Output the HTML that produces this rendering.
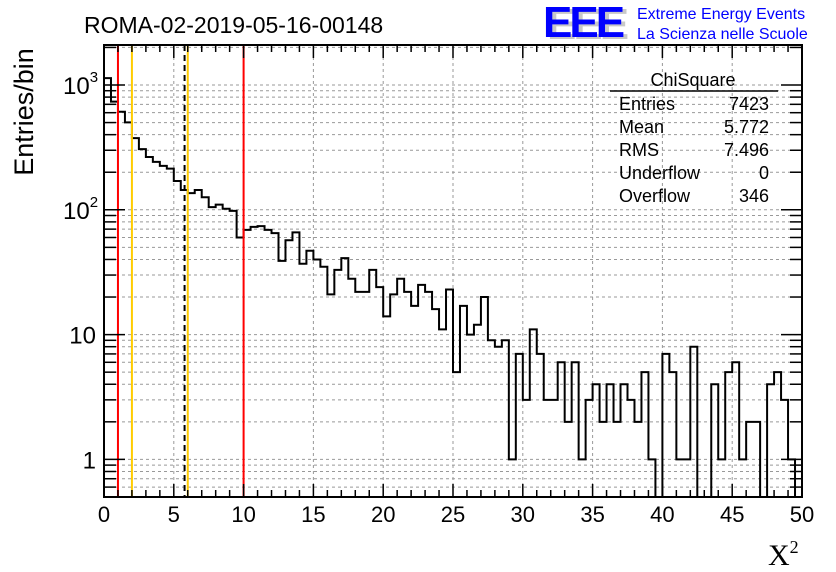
<!DOCTYPE html>
<html><head><meta charset="utf-8"><style>
body{margin:0;background:#fff;}
svg{display:block;font-family:"Liberation Sans",sans-serif;}
</style></head><body>
<svg id="c" width="836" height="572" viewBox="0 0 836 572">
<text x="84" y="33" font-size="23">ROMA-02-2019-05-16-00148</text>
<g>
<text x="547" y="39" font-size="44" font-weight="bold" fill="#c8c8c8" letter-spacing="-3">EEE</text>
<text x="543" y="37" font-size="44" font-weight="bold" fill="#0000ff" letter-spacing="-3">EEE</text>
<text x="637" y="19" font-size="16" fill="#0000ff">Extreme Energy Events</text>
<text x="637" y="39" font-size="16" fill="#0000ff">La Scienza nelle Scuole</text>
</g>
<g id="grid"></g>
<g id="marks"></g>
<g id="axes"></g>
<g font-size="18">
<text x="693" y="86" text-anchor="middle">ChiSquare</text>
<line x1="610" y1="91" x2="778" y2="91" stroke="#000" stroke-width="1.5"/>
<text x="619" y="110">Entries</text><text x="769" y="110" text-anchor="end">7423</text>
<text x="619" y="133">Mean</text><text x="769" y="133" text-anchor="end">5.772</text>
<text x="619" y="156">RMS</text><text x="769" y="156" text-anchor="end">7.496</text>
<text x="619" y="179">Underflow</text><text x="769" y="179" text-anchor="end">0</text>
<text x="619" y="202">Overflow</text><text x="769" y="202" text-anchor="end">346</text>
</g>
<text transform="translate(33,112) rotate(-90)" text-anchor="middle" font-size="27">Entries/bin</text>
<text x="768" y="565" font-size="30" font-family="'Liberation Serif',serif">X<tspan font-size="18" dy="-12">2</tspan></text>
</svg>
<script>
const binWidth = 0.5;
const counts = [1135,735,611,502,375,306,265,242,225,214,170,144,136,144,126,105,110,102,98,60,
69,73,74,69,65,39,57,66,37,47,40,35,21,33,41,28,22,22,33,24,
14,21,28,22,17,25,22,16,11,23,5,17,10,12,20,9,8,9,1,7,
3,11,7,3,3,6,2,6,1,3,4,2,4,2,4,3,2,5,1,0,
7,5,1,1,8,0,0,4,1,5,6,1,2,2,0,4,5,3,1,0];
const xTicks = [0,5,10,15,20,25,30,35,40,45,50];
const yDecades = [1,10,100,1000];
const yDecadeLabels = ["1","10","10","10"];
const yDecadeExp = ["","","2","3"];
const cutLines = [1,10];
const warnLines = [2,6];
const meanValue = 5.772;

const L=104,R=802,T=45,B=497;
const xMin=0,xMax=50;
const y1px=459.4, decPx=124.8;
const sx=v=>L+(v-xMin)/(xMax-xMin)*(R-L);
const sy=v=>v<=0?B+5:Math.min(B+5,y1px-decPx*Math.log10(v));
const NS="http://www.w3.org/2000/svg";
function mk(tag,attrs,parent){const e=document.createElementNS(NS,tag);for(const k in attrs)e.setAttribute(k,attrs[k]);parent.appendChild(e);return e;}
const grid=document.getElementById('grid'),marks=document.getElementById('marks'),axes=document.getElementById('axes');
const svg=document.getElementById('c');
const defs=mk('defs',{},svg);const cp=mk('clipPath',{id:'pc'},defs);mk('rect',{x:L,y:T,width:R-L,height:B-T},cp);
marks.setAttribute('clip-path','url(#pc)');
xTicks.forEach(t=>{if(t>xMin&&t<xMax){const g=mk('line',{x1:sx(t),x2:sx(t),y1:T,y2:B,stroke:'#999','stroke-dasharray':'3,3','stroke-width':1},grid);

}});
const yMinorVals=[];
[0.1,1,10,100,1000].forEach(d=>{for(let m=1;m<10;m++){const v=d*m;const y=sy(v);if(y>T&&y<B)yMinorVals.push(v);}});
yMinorVals.forEach(v=>{const g=mk('line',{x1:L,x2:R,y1:sy(v),y2:sy(v),stroke:'#999','stroke-dasharray':'3,3','stroke-width':1},grid);

});
let d='';
counts.forEach((c,i)=>{const x0=sx(i*binWidth),x1=sx((i+1)*binWidth),y=sy(c);d+=(i===0?'M'+x0+','+(B+5):'')+' L'+x0+','+y+' L'+x1+','+y;});
d+=' L'+sx(counts.length*binWidth)+','+(B+5);
const h=mk('path',{d:d,fill:'none',stroke:'#000','stroke-width':2},marks);


cutLines.forEach(v=>{const l=mk('line',{x1:sx(v),x2:sx(v),y1:T,y2:B,stroke:'#ff0000','stroke-width':2},marks);

});
warnLines.forEach(v=>{const l=mk('line',{x1:sx(v),x2:sx(v),y1:T,y2:B,stroke:'#ffcc00','stroke-width':2},marks);

});
const ml=mk('line',{x1:sx(meanValue),x2:sx(meanValue),y1:T,y2:B,stroke:'#000','stroke-width':2,'stroke-dasharray':'6,4'},marks);


const fr=mk('rect',{x:L,y:T,width:R-L,height:B-T,fill:'none',stroke:'#000','stroke-width':2},axes);


for(let t=xMin;t<=xMax;t++){const len=(t%5===0)?13:7;
mk('line',{x1:sx(t),x2:sx(t),y1:B,y2:B-len,stroke:'#000','stroke-width':1.5},axes);
mk('line',{x1:sx(t),x2:sx(t),y1:T,y2:T+len,stroke:'#000','stroke-width':1.5},axes);}
xTicks.forEach(t=>{const tx=mk('text',{x:sx(t),y:522,'text-anchor':'middle','font-size':22},axes);tx.textContent=t;

});
yMinorVals.forEach(v=>{const isMaj=yDecades.includes(v);const len=isMaj?21:12;const y=sy(v);
mk('line',{x1:L,x2:L+len,y1:y,y2:y,stroke:'#000','stroke-width':1.5},axes);
mk('line',{x1:R,x2:R-len,y1:y,y2:y,stroke:'#000','stroke-width':1.5},axes);});
yDecades.forEach((v,i)=>{
const tx=mk('text',{x:yDecadeExp[i]?63:96,y:sy(v)+9,'text-anchor':yDecadeExp[i]?'start':'end','font-size':24},axes);


const base=mk('tspan',{},tx);base.textContent=yDecadeLabels[i];
if(yDecadeExp[i]){const e=mk('tspan',{'font-size':15,dy:-12},tx);e.textContent=yDecadeExp[i];}});
</script>
</body></html>
